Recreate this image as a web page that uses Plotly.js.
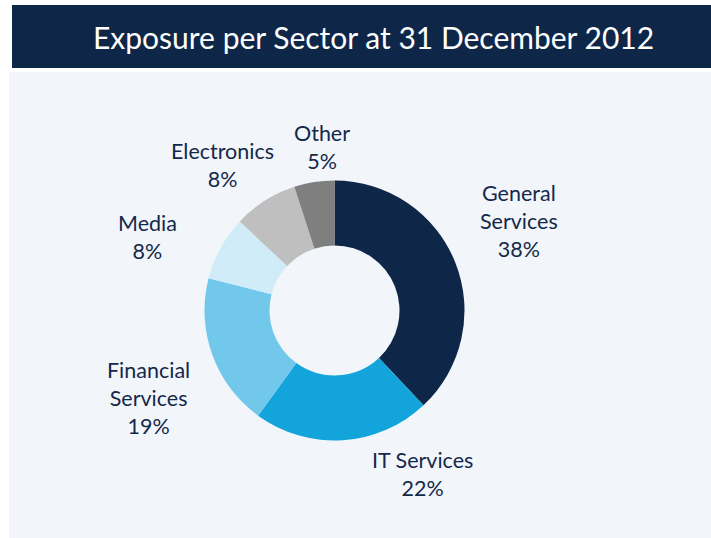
<!DOCTYPE html>
<html>
<head>
<meta charset="utf-8">
<script src="https://cdn.plot.ly/plotly-3.0.1.min.js"></script>
<style>html,body{margin:0;padding:0;background:#fff;}#chart{width:711px;height:538px;}</style>
</head>
<body>
<div id="chart"></div>
<script>
const sectors = ["General Services", "IT Services", "Financial Services", "Media", "Electronics", "Other"];
const labelLines = ["General<br>Services", "IT Services", "Financial<br>Services", "Media", "Electronics", "Other"];
const shares = [38, 22, 19, 8, 8, 5];
const colors = ["#0e2749", "#13a4dc", "#72c8eb", "#d0ecf8", "#bfbfbf", "#7f7f7f"];
const titleText = "Exposure per Sector at 31 December 2012";

const W = 711, H = 538;
const px = x => x / W;
const py = y => 1 - y / H;

// label placement (pixel centres)
const labelPos = [[519, 221], [422, 474], [148, 398], [147, 237], [222, 165], [322, 147]];

const total = shares.reduce((a, b) => a + b, 0);
const annotations = sectors.map((s, i) => ({
  text: labelLines[i] + "<br>" + Math.round(shares[i] / total * 100) + "%",
  x: px(labelPos[i][0]), y: py(labelPos[i][1]),
  xref: "paper", yref: "paper", xanchor: "center", yanchor: "middle",
  showarrow: false, align: "center",
  font: {family: "Lato, 'Open Sans', sans-serif", size: 21.5, color: "#14284b"}
}));
annotations.push({
  text: titleText, x: px(373), y: py(37), xref: "paper", yref: "paper",
  xanchor: "center", yanchor: "middle", showarrow: false,
  font: {family: "Lato, 'Open Sans', sans-serif", size: 30, color: "#ffffff"}
});

const cx = 334.5, cy = 310.5, r = 130;
const data = [{
  type: "pie",
  labels: sectors,
  values: shares,
  marker: {colors: colors, line: {width: 0}},
  hole: 0.5,
  sort: false,
  direction: "clockwise",
  rotation: 0,
  textinfo: "none",
  hoverinfo: "label+percent",
  domain: {x: [px(cx - r), px(cx + r)], y: [py(cy + r), py(cy - r)]}
}];

const layout = {
  width: W, height: H,
  margin: {l: 0, r: 0, t: 0, b: 0},
  paper_bgcolor: "#ffffff",
  showlegend: false,
  shapes: [
    {type: "rect", xref: "paper", yref: "paper", x0: px(9), x1: 1, y0: 0, y1: py(72),
     fillcolor: "#f2f6fa", line: {width: 0}, layer: "below"},
    {type: "rect", xref: "paper", yref: "paper", x0: px(12), x1: 1, y0: py(68), y1: py(5),
     fillcolor: "#0e2749", line: {width: 0}, layer: "below"}
  ],
  annotations: annotations
};

Plotly.newPlot("chart", data, layout, {displayModeBar: false, staticPlot: true});
</script>
</body>
</html>
